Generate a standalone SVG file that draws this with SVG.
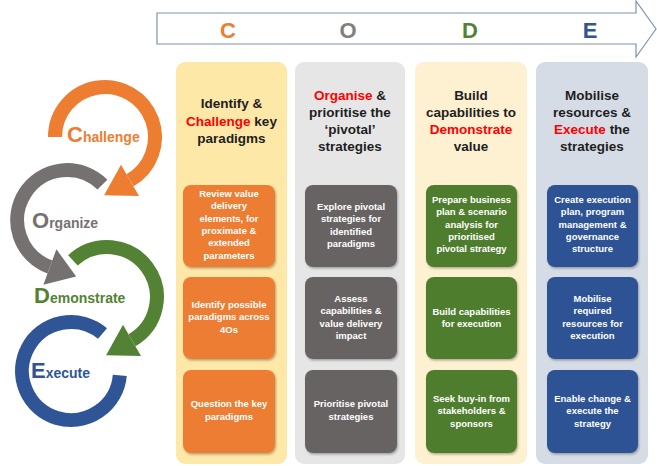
<svg xmlns="http://www.w3.org/2000/svg" width="657" height="466" viewBox="0 0 657 466">
  <defs>
    <filter id="shadow" x="-10%" y="-10%" width="125%" height="125%">
      <feDropShadow dx="1" dy="1.5" stdDeviation="1.2" flood-color="#000" flood-opacity="0.3"/>
    </filter>
    <style>
      text { font-family: "Liberation Sans", Arial, sans-serif; }
      .code { font-size: 22px; font-weight: bold; text-anchor: middle; }
      .head { font-size: 13.5px; font-weight: bold; fill: #1e1e1e; text-anchor: middle; }
      .red { fill: #ff0000; }
      .box { filter: url(#shadow); }
      .bt { font-size: 9.5px; font-weight: bold; fill: #ffffff; text-anchor: middle; }
      .ring { fill: none; stroke-width: 14; }
      .big { font-size: 22px; font-weight: bold; }
      .small { font-size: 14px; font-weight: bold; }
    </style>
  </defs>

  <rect width="657" height="466" fill="#ffffff"/>

  <!-- CODE banner arrow -->
  <g id="banner">
    <polygon points="157,13 636,13 636,1 656,29 636,57 636,44 157,44" fill="#ffffff" stroke="#8192a8" stroke-width="1.2"/>
    <text class="code" x="228" y="38" fill="#ed7d31">C</text>
    <text class="code" x="348" y="38" fill="#7f7f7f">O</text>
    <text class="code" x="470" y="38" fill="#548235">D</text>
    <text class="code" x="590" y="38" fill="#2f5597">E</text>
  </g>

  <!-- cycle on the left -->
  <g id="cycle">
    <g id="organize">
      <path class="ring" stroke="#767171" d="M102.4,184.6 A50,50 0 1 0 49.9,267"/>
      <polygon fill="#767171" points="43.4,284.8 56.4,249.2 76.2,276.6"/>
      <text x="32" y="228" fill="#767171"><tspan class="big">O</tspan><tspan class="small">rganize</tspan></text>
    </g>
    <g id="challenge">
      <path class="ring" stroke="#ed7d31" d="M55,137 A50,50 0 1 1 130,180.3"/>
      <polygon fill="#ed7d31" points="139,195.9 121,164.7 104.1,195.3"/>
      <text x="67" y="142" fill="#ed7d31"><tspan class="big">C</tspan><tspan class="small">hallenge</tspan></text>
    </g>
    <g id="execute">
      <path class="ring" stroke="#2f5597" d="M119.8,375.3 A49,49 0 1 1 102.5,333.5"/>
      <text x="31" y="378" fill="#2f5597"><tspan class="big">E</tspan><tspan class="small">xecute</tspan></text>
    </g>
    <g id="demonstrate">
      <path class="ring" stroke="#548235" d="M72.9,260.4 A50,50 0 1 1 132,340.3"/>
      <polygon fill="#548235" points="141,355.9 123,324.7 106.1,355.3"/>
      <text x="34" y="303" fill="#548235"><tspan class="big">D</tspan><tspan class="small" font-size="14.6">emonstrate</tspan></text>
    </g>
  </g>

  <!-- column C -->
  <g id="col-challenge">
    <rect x="176" y="62" width="111" height="402" rx="9" fill="#fde8a8"/>
    <text class="head" x="231.5" y="108">Identify &amp;</text>
    <text class="head" x="231.5" y="125.5"><tspan class="red">Challenge</tspan> key</text>
    <text class="head" x="231.5" y="143">paradigms</text>
    <g id="c1">
      <rect class="box" x="183" y="185" width="92" height="82" rx="8" fill="#ed7d31"/>
      <text class="bt" x="229" y="197">Review value</text>
      <text class="bt" x="229" y="209.3">delivery</text>
      <text class="bt" x="229" y="221.6">elements, for</text>
      <text class="bt" x="229" y="233.9">proximate &amp;</text>
      <text class="bt" x="229" y="246.2">extended</text>
      <text class="bt" x="229" y="258.5">parameters</text>
    </g>
    <g id="c2">
      <rect class="box" x="183" y="277" width="92" height="82" rx="8" fill="#ed7d31"/>
      <text class="bt" x="229" y="308">Identify possible</text>
      <text class="bt" x="229" y="320.3">paradigms across</text>
      <text class="bt" x="229" y="332.6">4Os</text>
    </g>
    <g id="c3">
      <rect class="box" x="183" y="370" width="92" height="83" rx="8" fill="#ed7d31"/>
      <text class="bt" x="229" y="407">Question the key</text>
      <text class="bt" x="229" y="419.5">paradigms</text>
    </g>
  </g>

  <!-- column O -->
  <g id="col-organise">
    <rect x="295" y="62" width="110" height="402" rx="9" fill="#e7e6e6"/>
    <text class="head" x="350" y="100"><tspan class="red">Organise</tspan> &amp;</text>
    <text class="head" x="350" y="117">prioritise the</text>
    <text class="head" x="350" y="134">‘pivotal’</text>
    <text class="head" x="350" y="151">strategies</text>
    <g id="o1">
      <rect class="box" x="305" y="185" width="92" height="82" rx="8" fill="#686464"/>
      <text class="bt" x="351" y="210">Explore pivotal</text>
      <text class="bt" x="351" y="222.3">strategies for</text>
      <text class="bt" x="351" y="234.6">identified</text>
      <text class="bt" x="351" y="246.9">paradigms</text>
    </g>
    <g id="o2">
      <rect class="box" x="305" y="277" width="92" height="82" rx="8" fill="#686464"/>
      <text class="bt" x="351" y="302">Assess</text>
      <text class="bt" x="351" y="314.3">capabilities &amp;</text>
      <text class="bt" x="351" y="326.6">value delivery</text>
      <text class="bt" x="351" y="338.9">impact</text>
    </g>
    <g id="o3">
      <rect class="box" x="305" y="370" width="92" height="83" rx="8" fill="#686464"/>
      <text class="bt" x="351" y="407">Prioritise pivotal</text>
      <text class="bt" x="351" y="419.5">strategies</text>
    </g>
  </g>

  <!-- column D -->
  <g id="col-demonstrate">
    <rect x="415" y="62" width="112" height="402" rx="9" fill="#fef1d1"/>
    <text class="head" x="471" y="100">Build</text>
    <text class="head" x="471" y="117">capabilities to</text>
    <text class="head" x="471" y="134"><tspan class="red">Demonstrate</tspan></text>
    <text class="head" x="471" y="151">value</text>
    <g id="d1">
      <rect class="box" x="426" y="185" width="91" height="82" rx="8" fill="#507d2e"/>
      <text class="bt" x="471.5" y="203">Prepare business</text>
      <text class="bt" x="471.5" y="215.3">plan &amp; scenario</text>
      <text class="bt" x="471.5" y="227.6">analysis  for</text>
      <text class="bt" x="471.5" y="239.9">prioritised</text>
      <text class="bt" x="471.5" y="252.2">pivotal strategy</text>
    </g>
    <g id="d2">
      <rect class="box" x="426" y="277" width="91" height="82" rx="8" fill="#507d2e"/>
      <text class="bt" x="471.5" y="315">Build capabilities</text>
      <text class="bt" x="471.5" y="327.3">for execution</text>
    </g>
    <g id="d3">
      <rect class="box" x="426" y="370" width="91" height="83" rx="8" fill="#507d2e"/>
      <text class="bt" x="471.5" y="402">Seek buy-in from</text>
      <text class="bt" x="471.5" y="414.3">stakeholders &amp;</text>
      <text class="bt" x="471.5" y="426.6">sponsors</text>
    </g>
  </g>

  <!-- column E -->
  <g id="col-execute">
    <rect x="536" y="62" width="112" height="402" rx="9" fill="#d6dce5"/>
    <text class="head" x="592" y="100">Mobilise</text>
    <text class="head" x="592" y="117">resources &amp;</text>
    <text class="head" x="592" y="134"><tspan class="red">Execute</tspan> the</text>
    <text class="head" x="592" y="151">strategies</text>
    <g id="e1">
      <rect class="box" x="547" y="185" width="91" height="82" rx="8" fill="#2e5294"/>
      <text class="bt" x="592.5" y="203">Create execution</text>
      <text class="bt" x="592.5" y="215.3">plan, program</text>
      <text class="bt" x="592.5" y="227.6">management &amp;</text>
      <text class="bt" x="592.5" y="239.9">governance</text>
      <text class="bt" x="592.5" y="252.2">structure</text>
    </g>
    <g id="e2">
      <rect class="box" x="547" y="277" width="91" height="82" rx="8" fill="#2e5294"/>
      <text class="bt" x="592.5" y="302">Mobilise</text>
      <text class="bt" x="592.5" y="314.3">required</text>
      <text class="bt" x="592.5" y="326.6">resources for</text>
      <text class="bt" x="592.5" y="338.9">execution</text>
    </g>
    <g id="e3">
      <rect class="box" x="547" y="370" width="91" height="83" rx="8" fill="#2e5294"/>
      <text class="bt" x="592.5" y="402">Enable change  &amp;</text>
      <text class="bt" x="592.5" y="414.3">execute the</text>
      <text class="bt" x="592.5" y="426.6">strategy</text>
    </g>
  </g>
</svg>
